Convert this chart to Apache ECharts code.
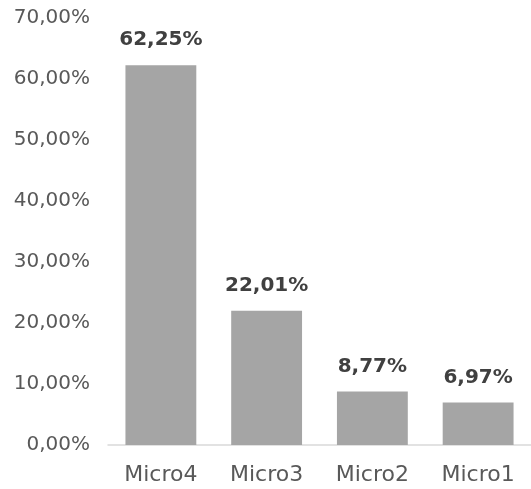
<!DOCTYPE html>
<html>
<head>
<meta charset="utf-8">
<script src="https://cdn.jsdelivr.net/npm/echarts@6/dist/echarts.min.js"></script>
<style>
  html, body { margin: 0; padding: 0; background: #fff; }
  #chart { width: 531px; height: 489px; }
</style>
</head>
<body>
<div id="chart"></div>
<script>
var categories = ["Micro4", "Micro3", "Micro2", "Micro1"];
var shares = [62.25, 22.01, 8.77, 6.97];
var yTicks = [0, 10, 20, 30, 40, 50, 60, 70];

function pct(v) {
  return v.toFixed(2).replace(".", ",") + "%";
}

var chart = echarts.init(document.getElementById("chart"));
var option = {
  animation: false,
  textStyle: { fontFamily: "DejaVu Sans" },
  grid: { left: 108, right: -1, top: 18, bottom: 44 },
  xAxis: {
    type: "category",
    data: categories,
    axisLine: { lineStyle: { color: "#D9D9D9", width: 1.5 } },
    axisTick: { show: false },
    axisLabel: { color: "#595959", fontSize: 22, margin: 19 }
  },
  yAxis: {
    type: "value",
    min: yTicks[0],
    max: yTicks[yTicks.length - 1],
    interval: 10,
    splitLine: { show: false },
    axisLine: { show: false },
    axisTick: { show: false },
    axisLabel: {
      color: "#595959",
      fontSize: 20,
      margin: 18,
      formatter: function (v) { return pct(v); }
    }
  },
  series: [
    {
      type: "bar",
      data: shares,
      barWidth: "67%",
      itemStyle: { color: "#A5A5A5" },
      label: {
        show: true,
        position: "top",
        distance: 15,
        color: "#404040",
        fontSize: 20,
        fontWeight: "bold",
        formatter: function (p) { return pct(p.value); }
      }
    }
  ]
};
chart.setOption(option);
</script>
</body>
</html>
